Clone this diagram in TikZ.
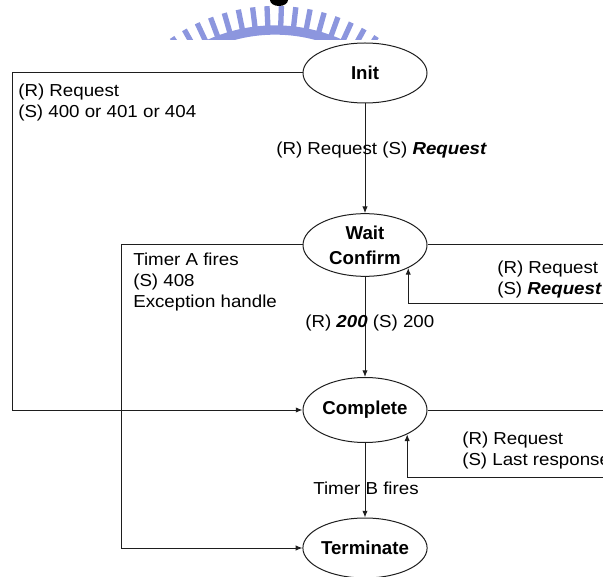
\documentclass[tikz,border=0pt]{standalone}
\usepackage{fontspec}
\setmainfont{Liberation Sans}
\newfontfamily\lblfont{Liberation Sans}[FakeStretch=1.08]
\usetikzlibrary{arrows.meta,shapes.geometric,calc}
\definecolor{wmblue}{RGB}{140,150,222}
\definecolor{linecol}{RGB}{30,30,30}
\begin{document}
\begin{tikzpicture}[x=0.75pt,y=-0.75pt,
  state/.style={ellipse,draw=linecol,line width=0.75pt,minimum width=93pt,inner sep=0pt,
    font=\fontsize{14}{18.5}\selectfont\bfseries,align=center},
  lbl/.style={font=\lblfont\fontsize{13}{15.75}\selectfont,align=left,inner sep=0pt,anchor=west},
  conn/.style={draw=linecol,line width=0.75pt},
  arr/.style={conn,-{Latex[length=5pt,width=4pt]}},
  wmtick/.style={draw=wmblue,line width=4pt}]
\useasboundingbox (0,0) rectangle (603,577);

% watermark (partially visible logo)
\begin{scope}
  \clip (0,0) rectangle (603,40);
  \foreach \a in {236,240.5,...,305}
    \draw[wmtick] ($(275,190)+(\a:163)$) -- ($(275,190)+(\a:184)$);
  \draw[draw=wmblue,line width=7pt] ($(275,190)+(234:160)$) arc[start angle=234,end angle=306,radius=160];
  \fill[black] (279,0) ellipse[x radius=9,y radius=6];
\end{scope}

% states
\node[state,minimum height=45pt] (init) at (365,73) {Init};
\node[state,minimum height=47pt] (wc) at (365,245) {Wait\\Confirm};
\node[state,minimum height=48.75pt] (comp) at (365,410) {Complete};
\node[state,minimum height=45pt] (term) at (365,548) {Terminate};

% connector corners
\coordinate (l1) at (12,73);
\coordinate (l2) at (121,245);
\coordinate (r1) at (604,245);
\coordinate (r2) at (604,303);
\coordinate (r3) at (604,410);
\coordinate (r4) at (604,477);

% connectors
\draw[arr] (init.west) -- (l1) |- (comp.west);
\draw[arr] (wc.west) -- (l2) |- (term.west);
\draw[arr] (init.south) -- (wc.north);
\draw[arr] (wc.south) -- (comp.north);
\draw[arr] (comp.south) -- (term.north);
\draw[conn] (wc.east) -- (r1);
\draw[arr] (r2) -| (wc.-28);
\draw[conn] (comp.east) -- (r3);
\draw[arr] (r4) -| (comp.-30);

% labels
\node[lbl] (la) at (18,102.5) {(R) Request\\(S) 400 or 401 or 404};
\node[lbl] (lb) at (276,150) {(R) Request (S) \textbf{\textit{Request}}};
\node[lbl] (lc) at (133,282) {Timer A fires\\(S) 408\\Exception handle};
\node[lbl] (ld) at (305,323) {(R) \textbf{\textit{200}} (S) 200};
\node[lbl] (le) at (497,279.5) {(R) Request\\(S) \textbf{\textit{Request}}};
\node[lbl] (lf) at (462,450.5) {(R) Request\\(S) Last response};
\node[lbl] (lg) at (313,488) {Timer B fires};
\end{tikzpicture}
\end{document}
